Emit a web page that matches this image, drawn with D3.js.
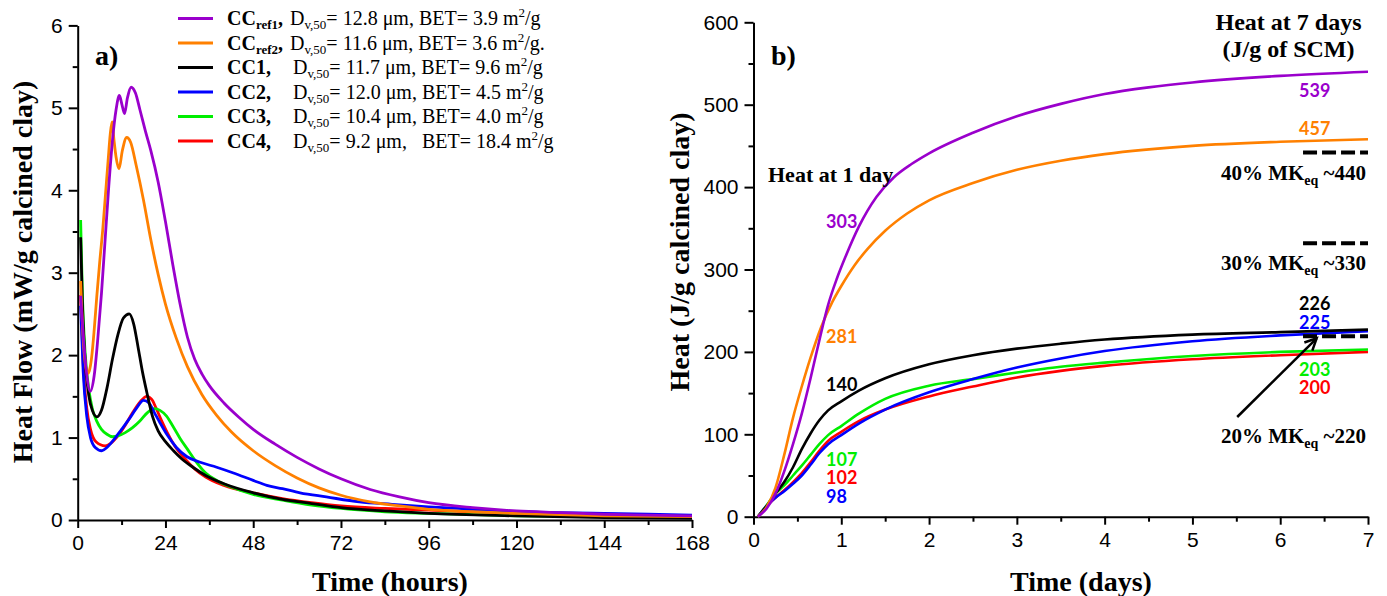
<!DOCTYPE html>
<html>
<head>
<meta charset="utf-8">
<script src="https://cdn.jsdelivr.net/npm/d3@7"></script>
<style>
  body { margin: 0; background: #fff; }
  svg { display: block; }
  .tick text { font-family: "Liberation Sans", Arial, sans-serif; font-size: 21px; fill: #000; }
  .serif { font-family: "Liberation Serif", "Times New Roman", serif; fill: #000; }
  .num { font-family: Lato, "Open Sans", sans-serif; font-weight: bold; font-size: 18px; }
</style>
</head>
<body>
<svg id="chart" width="1387" height="596"></svg>
<script>
// ---- data ----
var names = ["CCref1", "CCref2", "CC1", "CC2", "CC3", "CC4"];
var colors = ["#9a00cc", "#ff8000", "#000000", "#0000ff", "#00ee00", "#ff0000"];
var dv50 = ["12.8", "11.6", "11.7", "12.0", "10.4", "9.2"];
var bet = ["3.9", "3.6", "9.6", "4.5", "4.0", "18.4"];

// panel a: heat flow [hours, mW/g]
var flowRef1 = [[0.8,2.72],[1.5,2.25],[2.5,1.75],[3.4,1.56],[4.5,1.75],[5.5,2.2],[6.5,2.75],[7.5,3.4],[8.5,4.05],[9.5,4.6],[10.5,4.98],[11.4,5.15],[12.1,5.04],[12.8,4.93],[13.6,5.12],[14.6,5.25],[15.8,5.18],[17,4.98],[18.5,4.72],[20,4.48],[22,4.1],[24,3.62],[26,3.1],[28,2.62],[30,2.22],[32,1.95],[34,1.77],[36,1.63],[40,1.42],[44,1.25],[48,1.1],[54,0.92],[60,0.76],[66,0.62],[72,0.5],[80,0.37],[88,0.28],[96,0.21],[108,0.15],[120,0.11],[132,0.09],[144,0.07],[156,0.06],[168,0.05]];
var flowRef2 = [[0.8,2.9],[1.5,2.2],[2.2,1.86],[2.8,1.78],[3.3,1.83],[3.8,1.97],[4.5,2.3],[5.2,2.7],[6,3.12],[6.9,3.55],[7.6,3.95],[8.3,4.35],[8.9,4.68],[9.4,4.83],[9.9,4.62],[10.5,4.4],[11.3,4.26],[12.2,4.48],[13.4,4.64],[14.5,4.58],[16,4.3],[18,3.88],[20,3.4],[22,2.98],[24,2.62],[27,2.2],[30,1.86],[34,1.52],[38,1.27],[42,1.07],[48,0.84],[54,0.66],[60,0.51],[66,0.39],[72,0.3],[80,0.22],[88,0.17],[96,0.13],[108,0.1],[120,0.08],[144,0.05],[168,0.04]];
var flowCC1 = [[0.8,3.43],[1.3,2.6],[2,1.95],[3,1.52],[4,1.33],[5.3,1.25],[6.5,1.33],[8,1.6],[9.5,1.95],[11,2.25],[12.5,2.45],[14.1,2.5],[15.3,2.38],[16.5,2.1],[17.7,1.8],[18.9,1.55],[20.5,1.25],[22,1.08],[24,0.95],[26.2,0.84],[28.5,0.74],[31.5,0.64],[35,0.54],[40,0.44],[48,0.33],[56,0.25],[64,0.2],[72,0.15],[84,0.11],[96,0.08],[120,0.05],[144,0.03],[168,0.02]];
var flowCC2 = [[0.8,2.6],[1.5,1.8],[2.5,1.25],[3.5,1.0],[4.8,0.88],[6.6,0.84],[8,0.88],[10,0.98],[12,1.1],[14,1.22],[16,1.35],[18,1.45],[19.5,1.42],[21,1.3],[22.5,1.18],[24.5,1.03],[27,0.88],[29.8,0.77],[33.5,0.7],[38,0.64],[42.6,0.57],[48,0.48],[51.7,0.42],[56,0.38],[60.8,0.33],[68,0.28],[77,0.22],[86,0.19],[96,0.16],[108,0.13],[120,0.1],[144,0.08],[168,0.06]];
var flowCC3 = [[0.8,3.64],[1.3,2.7],[2,2.05],[3,1.6],[4,1.35],[5.2,1.2],[6.5,1.1],[8,1.04],[9.5,1.01],[11,1.02],[13,1.06],[15,1.12],[17,1.2],[19,1.3],[21,1.35],[22.5,1.33],[24.3,1.26],[26,1.14],[28,0.99],[30,0.86],[32,0.73],[35,0.57],[38,0.48],[42,0.4],[48,0.31],[56,0.24],[64,0.18],[72,0.14],[84,0.1],[96,0.08],[120,0.05],[144,0.04],[168,0.03]];
var flowCC4 = [[0.8,2.73],[1.5,1.9],[2.5,1.35],[3.5,1.1],[5,0.95],[7.5,0.9],[9,0.93],[11,1.02],[13,1.15],[15,1.3],[17,1.43],[18.9,1.5],[20.3,1.46],[21.5,1.35],[23,1.2],[24.5,1.06],[26.5,0.9],[29.8,0.72],[32,0.62],[35,0.52],[40,0.42],[48,0.33],[56,0.26],[64,0.21],[72,0.17],[84,0.14],[96,0.12],[120,0.08],[144,0.06],[168,0.05]];

// panel b: cumulative heat [days, J/g]
var heatRef1 = [[0.05,0],[0.15,10],[0.25,28],[0.35,55],[0.45,88],[0.55,125],[0.65,168],[0.75,214],[0.85,257],[0.95,289],[1.05,316],[1.2,352],[1.4,388],[1.6,412],[1.8,428],[2.0,441],[2.5,466],[3.0,486],[3.5,501],[4.0,513],[4.5,521],[5.0,527],[6.0,535],[7.0,540]];
var heatRef2 = [[0.05,0],[0.15,12],[0.25,35],[0.35,75],[0.45,120],[0.55,158],[0.65,193],[0.77,230],[0.9,261],[1.0,280],[1.15,305],[1.3,325],[1.5,347],[1.75,368],[2.0,384],[2.5,405],[3.0,421],[3.5,432],[4.0,440],[5.0,450],[6.0,455],[7.0,458]];
var heatCC1 = [[0.05,0],[0.15,13],[0.25,28],[0.35,42],[0.45,60],[0.55,82],[0.65,101],[0.75,117],[0.85,129],[1.0,140],[1.2,153],[1.5,168],[2.0,185],[2.5,196],[3.0,204],[3.5,210],[4.0,215],[5.0,221],[6.0,224],[7.0,227]];
var heatCC2 = [[0.05,0],[0.15,13],[0.25,23],[0.35,31],[0.45,40],[0.55,50],[0.65,63],[0.75,77],[0.85,88],[1.0,99],[1.2,113],[1.5,130],[2.0,151],[2.5,167],[3.0,181],[3.5,192],[4.0,201],[5.0,213],[6.0,220],[7.0,225]];
var heatCC3 = [[0.05,0],[0.15,14],[0.25,28],[0.35,38],[0.45,50],[0.55,62],[0.65,75],[0.75,88],[0.85,99],[1.0,110],[1.2,125],[1.5,143],[2.0,159],[2.5,167],[3.0,175],[3.5,182],[4.0,187],[5.0,195],[6.0,200],[7.0,203]];
var heatCC4 = [[0.05,0],[0.15,13],[0.25,23],[0.35,32],[0.45,42],[0.55,53],[0.65,66],[0.75,80],[0.85,92],[1.0,103],[1.2,116],[1.5,130],[2.0,146],[2.5,158],[3.0,169],[3.5,177],[4.0,183],[5.0,191],[6.0,196],[7.0,200]];

var heat1day = [303, 281, 140, 98, 107, 102];
var heat7day = [539, 457, 226, 225, 203, 200];
var mkPct = ["40%", "30%", "20%"];
var mkLevel = [440, 330, 220];
var mkDrawn = [442, 332, 219];

var xTicksA = [0, 24, 48, 72, 96, 120, 144, 168];
var yTicksA = [0, 1, 2, 3, 4, 5, 6];
var xTicksB = [0, 1, 2, 3, 4, 5, 6, 7];
var yTicksB = [0, 100, 200, 300, 400, 500, 600];

var flows = [flowRef1, flowRef2, flowCC1, flowCC2, flowCC3, flowCC4];
var heats = [heatRef1, heatRef2, heatCC1, heatCC2, heatCC3, heatCC4];

// ---- drawing ----
var svg = d3.select("#chart");

var xa = d3.scaleLinear().domain([0, 168]).range([77.7, 692]);
var ya = d3.scaleLinear().domain([0, 6]).range([520, 25.4]);
var xb = d3.scaleLinear().domain([0, 7]).range([753.5, 1368]);
var yb = d3.scaleLinear().domain([0, 600]).range([516.7, 22.3]);

function mids(t) {
  var out = [];
  for (var i = 0; i < t.length - 1; i++) out.push((t[i] + t[i + 1]) / 2);
  return out;
}

function drawAxes(x, y, xt, yt) {
  var y0 = y.range()[0], x0 = x.range()[0];
  svg.append("g").attr("transform", "translate(0," + y0 + ")")
    .call(d3.axisBottom(x).tickValues(mids(xt)).tickSize(5).tickSizeOuter(0).tickFormat(""))
    .call(function(g) { g.select(".domain").remove(); });
  svg.append("g").attr("transform", "translate(" + x0 + ",0)")
    .call(d3.axisLeft(y).tickValues(mids(yt)).tickSize(5).tickSizeOuter(0).tickFormat(""))
    .call(function(g) { g.select(".domain").remove(); });
  svg.append("g").attr("transform", "translate(0," + y0 + ")")
    .call(d3.axisBottom(x).tickValues(xt).tickSize(8).tickPadding(7).tickSizeOuter(0).tickFormat(d3.format("d")));
  svg.append("g").attr("transform", "translate(" + x0 + ",0)")
    .call(d3.axisLeft(y).tickValues(yt).tickSize(9).tickPadding(6).tickSizeOuter(0).tickFormat(d3.format("d")));
  svg.selectAll(".domain, .tick line").attr("stroke", "#000").attr("stroke-width", 2);
}

drawAxes(xa, ya, xTicksA, yTicksA);
drawAxes(xb, yb, xTicksB, yTicksB);

var lineA = d3.line().x(function(d) { return xa(d[0]); }).y(function(d) { return ya(d[1]); }).curve(d3.curveMonotoneX);
var lineB = d3.line().x(function(d) { return xb(d[0]); }).y(function(d) { return yb(d[1]); }).curve(d3.curveMonotoneX);

// draw reds/greens first so the purple sits on top like the original
var order = [5, 4, 3, 2, 1, 0];
order.forEach(function(i) {
  svg.append("path").attr("d", lineA(flows[i])).attr("fill", "none")
    .attr("stroke", colors[i]).attr("stroke-width", 2.8);
});
order.forEach(function(i) {
  svg.append("path").attr("d", lineB(heats[i])).attr("fill", "none")
    .attr("stroke", colors[i]).attr("stroke-width", 2.6);
});

// axis titles
svg.append("text").attr("class", "serif").attr("font-weight", "bold").attr("font-size", 28)
  .attr("text-anchor", "middle").attr("transform", "translate(32,272) rotate(-90)")
  .text("Heat Flow (mW/g calcined clay)");
svg.append("text").attr("class", "serif").attr("font-weight", "bold").attr("font-size", 28)
  .attr("text-anchor", "middle").attr("x", 390).attr("y", 591).text("Time (hours)");
svg.append("text").attr("class", "serif").attr("font-weight", "bold").attr("font-size", 28)
  .attr("text-anchor", "middle").attr("transform", "translate(689,252) rotate(-90)")
  .text("Heat (J/g calcined clay)");
svg.append("text").attr("class", "serif").attr("font-weight", "bold").attr("font-size", 28)
  .attr("text-anchor", "middle").attr("x", 1081).attr("y", 591).text("Time (days)");

svg.append("text").attr("class", "serif").attr("font-weight", "bold").attr("font-size", 28)
  .attr("x", 95).attr("y", 65).text("a)");
svg.append("text").attr("class", "serif").attr("font-weight", "bold").attr("font-size", 28)
  .attr("x", 771).attr("y", 65).text("b)");

// legend
var leg = svg.append("g");
names.forEach(function(n, i) {
  var cy = 18.5 + 24.5 * i, by = cy + 6.5;
  leg.append("line").attr("x1", 178).attr("x2", 213).attr("y1", cy).attr("y2", cy)
    .attr("stroke", colors[i]).attr("stroke-width", 3);
  var t = leg.append("text").attr("class", "serif").attr("font-weight", "bold")
    .attr("font-size", 20).attr("x", 227).attr("y", by);
  if (n.indexOf("ref") >= 0) {
    t.append("tspan").text("CC");
    t.append("tspan").attr("font-size", 13).attr("dy", 4).text(n.slice(2));
    t.append("tspan").attr("dy", -4).text(",");
  } else {
    t.append("tspan").text(n + ",");
  }
  var d = leg.append("text").attr("class", "serif").attr("font-size", 20)
    .attr("x", i < 2 ? 290 : 293).attr("y", by).style("white-space", "pre");
  d.append("tspan").text("D");
  d.append("tspan").attr("font-size", 13).attr("dy", 4).text("v,50");
  var gap = i === 5 ? ",   " : ", ";
  d.append("tspan").attr("dy", -4).text("= " + dv50[i] + " \u03bcm" + gap + "BET= " + bet[i] + " m");
  d.append("tspan").attr("font-size", 13).attr("dy", -8).text("2");
  d.append("tspan").attr("dy", 8).text(i === 1 ? "/g." : "/g");
});

// panel b annotations
svg.append("text").attr("class", "serif").attr("font-weight", "bold").attr("font-size", 22)
  .attr("x", 768).attr("y", 182).text("Heat at 1 day");
svg.append("text").attr("class", "serif").attr("font-weight", "bold").attr("font-size", 24)
  .attr("text-anchor", "middle").attr("x", 1288.5).attr("y", 30).text("Heat at 7 days");
svg.append("text").attr("class", "serif").attr("font-weight", "bold").attr("font-size", 24)
  .attr("text-anchor", "middle").attr("x", 1288.5).attr("y", 57).text("(J/g of SCM)");

var day1Y = [228, 343, 391, 503, 466, 484];
heat1day.forEach(function(v, i) {
  svg.append("text").attr("class", "num").attr("fill", colors[i])
    .attr("x", 826).attr("y", day1Y[i]).text(v);
});
var day7Y = [97, 135, 310, 329, 376, 394];
heat7day.forEach(function(v, i) {
  svg.append("text").attr("class", "num").attr("fill", colors[i])
    .attr("x", 1299).attr("y", day7Y[i]).text(v);
});

// MK equivalent levels
var mkTextY = [180, 270, 443];
mkDrawn.forEach(function(v, i) {
  svg.append("line").attr("x1", xb(6.26)).attr("x2", xb(7)).attr("y1", yb(v)).attr("y2", yb(v))
    .attr("stroke", "#000").attr("stroke-width", 4).attr("stroke-dasharray", "14,5");
  var t = svg.append("text").attr("class", "serif").attr("font-weight", "bold").attr("font-size", 21)
    .attr("text-anchor", "end").attr("x", 1366).attr("y", mkTextY[i]);
  t.append("tspan").text(mkPct[i] + " MK");
  t.append("tspan").attr("font-size", 14).attr("dy", 5).text("eq");
  t.append("tspan").attr("dy", -5).text(" ~" + mkLevel[i]);
});

// arrow to the 20% line
var ax1 = xb(5.51), ay1 = yb(121), ax2 = xb(6.415), ay2 = yb(216.5);
svg.append("line").attr("x1", ax1).attr("y1", ay1).attr("x2", ax2).attr("y2", ay2)
  .attr("stroke", "#000").attr("stroke-width", 2.5);
var ang = Math.atan2(ay2 - ay1, ax2 - ax1), hl = 13, hw = 0.45;
svg.append("path")
  .attr("d", "M" + (ax2 - hl * Math.cos(ang - hw)) + "," + (ay2 - hl * Math.sin(ang - hw)) +
    "L" + ax2 + "," + ay2 + "L" + (ax2 - hl * Math.cos(ang + hw)) + "," + (ay2 - hl * Math.sin(ang + hw)))
  .attr("fill", "none").attr("stroke", "#000").attr("stroke-width", 2.5);
</script>
</body>
</html>
